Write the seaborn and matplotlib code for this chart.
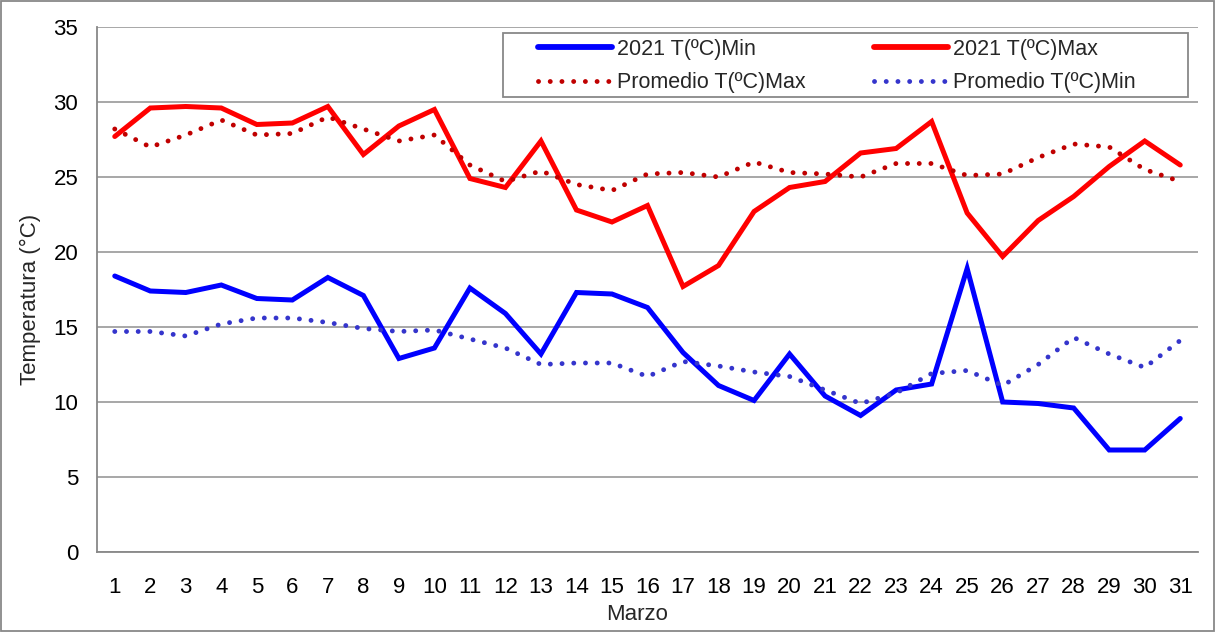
import matplotlib
matplotlib.use("Agg")
import matplotlib.pyplot as plt
import seaborn as sns
import numpy as np
import pandas as pd
from matplotlib.ticker import FixedLocator

days = list(range(1, 32))
tmin_2021 = [18.4, 17.4, 17.3, 17.8, 16.9, 16.8, 18.3, 17.1, 12.9, 13.6,
             17.6, 15.9, 13.2, 17.3, 17.2, 16.3, 13.3, 11.1, 10.1, 13.2,
             10.4, 9.1, 10.8, 11.2, 18.9, 10.0, 9.9, 9.6, 6.8, 6.8, 8.9]
tmax_2021 = [27.7, 29.6, 29.7, 29.6, 28.5, 28.6, 29.7, 26.5, 28.4, 29.5,
             24.9, 24.3, 27.4, 22.8, 22.0, 23.1, 17.7, 19.1, 22.7, 24.3,
             24.7, 26.6, 26.9, 28.7, 22.6, 19.7, 22.1, 23.7, 25.7, 27.4, 25.8]
prom_max = [28.2, 27.0, 27.8, 28.8, 27.8, 27.9, 29.0, 28.2, 27.4, 27.8,
            25.8, 24.7, 25.4, 24.5, 24.1, 25.2, 25.3, 25.0, 26.0, 25.3,
            25.2, 25.0, 25.9, 25.9, 25.1, 25.2, 26.3, 27.2, 27.0, 25.5, 24.7]
prom_min = [14.7, 14.7, 14.4, 15.2, 15.6, 15.6, 15.3, 14.9, 14.7, 14.8,
            14.2, 13.6, 12.5, 12.6, 12.6, 11.7, 12.7, 12.4, 12.0, 11.7,
            10.8, 9.9, 10.6, 11.9, 12.1, 11.1, 12.5, 14.3, 13.2, 12.3, 14.1]
labels = ["2021 T(ºC)Min", "2021 T(ºC)Max", "Promedio T(ºC)Max", "Promedio T(ºC)Min"]

sns.set_theme(style="white")
plt.rcParams['font.family'] = ['Liberation Sans', 'DejaVu Sans']

W, H = 1215, 632
fig = plt.figure(figsize=(W / 100, H / 100), dpi=100)
ax = fig.add_axes([97 / W, 1 - 552 / H, (1198 - 97) / W, (552 - 27) / H])

df = pd.DataFrame({"day": days, "a": tmin_2021, "b": tmax_2021, "c": prom_max, "d": prom_min})
dot = (0, (0.01, 2.4))
sns.lineplot(data=df, x="day", y="a", ax=ax, color="#0000FF", linewidth=3.6, label=labels[0])
sns.lineplot(data=df, x="day", y="b", ax=ax, color="#FF0000", linewidth=3.6, label=labels[1])
sns.lineplot(data=df, x="day", y="c", ax=ax, color="#C00000", linewidth=3.5, label=labels[2],
             linestyle=dot)
sns.lineplot(data=df, x="day", y="d", ax=ax, color="#3535CC", linewidth=3.5, label=labels[3],
             linestyle=dot)
for ln in ax.lines[2:]:
    ln.set_dash_capstyle("round")
for ln in ax.lines[:2]:
    ln.set_solid_joinstyle("miter")

ax.set_xlim(0.5, 31.5)
ax.set_ylim(0, 35)
ax.set_yticks(range(0, 36, 5))
ax.set_xticks(days)
ax.xaxis.set_minor_locator(FixedLocator(np.arange(0.5, 32, 1)))
ax.tick_params(axis="x", which="major", length=0, labelsize=16, pad=18, colors="black")
ax.tick_params(axis="x", which="minor", length=5, width=1.2, color="#888888", direction="out")
ax.tick_params(axis="y", which="major", length=5.5, width=1.2, color="#888888", direction="out",
               labelsize=16, colors="black", pad=8)
ax.yaxis.grid(True, color="#A0A0A0", linewidth=1.3)
ax.set_axisbelow(True)
for s in ["top", "right"]:
    ax.spines[s].set_visible(False)
for s in ["left", "bottom"]:
    ax.spines[s].set_color("#888888")
    ax.spines[s].set_linewidth(1.3)
ax.set_xlabel("Marzo", fontsize=16)
ax.xaxis.set_label_coords((637 - 97) / 1101, -(604 - 552) / 525)
ax.set_ylabel("Temperatura (°C)", fontsize=16)
ax.yaxis.set_label_coords((41 - 97) / 1101, (552 - 299) / 525)

h, l = ax.get_legend_handles_labels()
order = [0, 2, 1, 3]
fs = 15.5
fspx = fs * 100 / 72
leg = ax.legend([h[i] for i in order], [l[i] for i in order], ncol=2, fontsize=fs,
                loc="upper left", bbox_to_anchor=(538 / W, 1 - 39 / H),
                bbox_transform=fig.transFigure, frameon=False,
                handlelength=74 / fspx, handletextpad=5 / fspx, columnspacing=68 / fspx,
                borderpad=0, borderaxespad=0, labelspacing=0.58)
for lh in leg.get_lines():
    if lh.get_linestyle() == "-":
        lh.set_linewidth(4.2)

fig.patches.append(plt.Rectangle((503 / W, 1 - 97 / H), (1188 - 503) / W, (97 - 33) / H,
                                 transform=fig.transFigure, fill=False, edgecolor="#888888",
                                 linewidth=1.3))
fig.patches.append(plt.Rectangle((0.001, 0.001), 0.998, 0.998, transform=fig.transFigure,
                                 fill=False, edgecolor="#888888", linewidth=1.3))
fig.savefig("out.png", dpi=100, facecolor="white")
